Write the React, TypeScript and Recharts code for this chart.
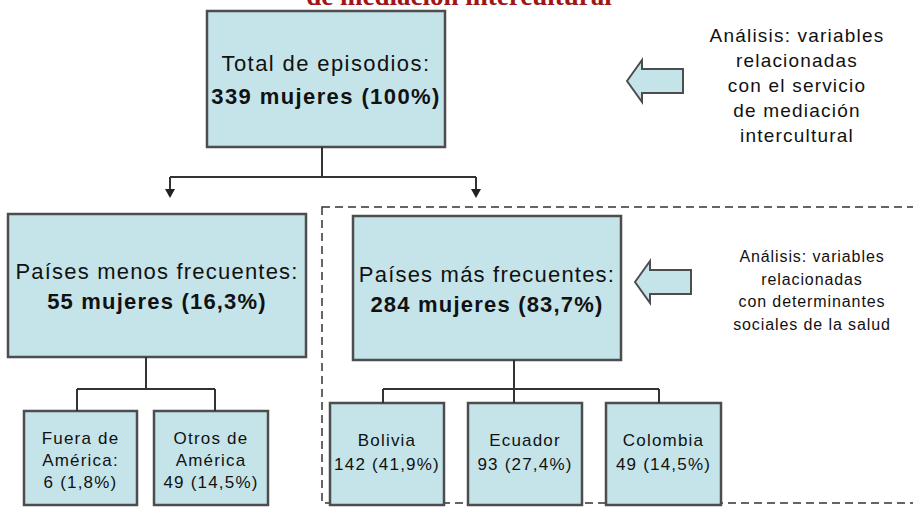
import { ComposedChart, XAxis, YAxis, ReferenceArea, ReferenceLine, ReferenceDot } from 'recharts';

const TITLE = 'de mediación intercultural';
const TOTAL_LABEL = 'Total de episodios:';
const TOTAL_COUNT = 339;
const TOTAL_PCT = '100%';
const GROUP_LABELS = ['Países menos frecuentes:', 'Países más frecuentes:'];
const GROUP_COUNTS = [55, 284];
const GROUP_PCTS = ['16,3%', '83,7%'];
const LESS_LABELS = [['Fuera de', 'América:'], ['Otros de', 'América']];
const LESS_COUNTS = [6, 49];
const LESS_PCTS = ['1,8%', '14,5%'];
const MORE_LABELS = ['Bolivia', 'Ecuador', 'Colombia'];
const MORE_COUNTS = [142, 93, 49];
const MORE_PCTS = ['41,9%', '27,4%', '14,5%'];
const NOTE_SERVICE = ['Análisis: variables', 'relacionadas', 'con el servicio', 'de mediación', 'intercultural'];
const NOTE_SOCIAL = ['Análisis: variables', 'relacionadas', 'con determinantes', 'sociales de la salud'];

// layout, in diagram units (x 0..913, y 0..508 top-down)
const ROOT_BOX = [207, 445, 11, 147];
const GROUP_BOXES = [[8, 306, 214, 357], [353, 621, 216, 360]];
const LESS_BOXES = [[24, 137, 411, 505], [154, 268, 411, 505]];
const MORE_BOXES = [[330, 444, 403, 505], [468, 582, 403, 505], [606, 721, 403, 505]];
const FRAME = [322, 940, 207, 503];
const CONNECTORS = [
  [322, 147, 322, 177], [170, 177, 476, 177], [170, 177, 170, 190], [476, 177, 476, 190],
  [146, 357, 146, 389], [77, 389, 215, 389], [77, 389, 77, 411], [215, 389, 215, 411],
  [514, 360, 514, 403], [383, 389, 659, 389], [383, 389, 383, 403], [659, 389, 659, 403],
];
const ARROW_TIPS = [[170, 198], [476, 198]];
const BLOCK_ARROWS = [[627, 81], [635, 282]];

const FILL = '#c5e4ea';
const EDGE = '#4d4d4d';
const FONT = '"Liberation Sans", Arial, sans-serif';

type Line = { text: string; bold?: boolean };

function BoxText(props: any) {
  const { viewBox, lines, size, gap, spacing = 1, shift = 0 } = props;
  const { x, y, width, height } = viewBox;
  const cx = x + width / 2;
  const top = y + height / 2 - ((lines.length - 1) * gap) / 2 + shift;
  return (
    <text textAnchor="middle" fontFamily={FONT} fontSize={size} fill="#111" style={{ letterSpacing: spacing }}>
      {lines.map((l: Line, i: number) => (
        <tspan key={i} x={cx} y={top + i * gap} dy="0.36em" fontWeight={l.bold ? 'bold' : 'normal'}>
          {l.text}
        </tspan>
      ))}
    </text>
  );
}

function Box({ box, lines, size, gap, spacing, shift }: any) {
  return (
    <ReferenceArea
      x1={box[0]} x2={box[1]} y1={box[2]} y2={box[3]}
      fill={FILL} fillOpacity={1} stroke={EDGE} strokeWidth={2.5}
      ifOverflow="visible"
      label={<BoxText lines={lines} size={size} gap={gap} spacing={spacing} shift={shift} />}
    />
  );
}

const blockArrow = (p: any) => {
  const { cx, cy } = p;
  const pts = [
    [cx, cy], [cx + 15, cy - 21], [cx + 15, cy - 12], [cx + 56, cy - 12],
    [cx + 56, cy + 12], [cx + 15, cy + 12], [cx + 15, cy + 21],
  ].map((q) => q.join(',')).join(' ');
  return <polygon points={pts} fill={FILL} stroke={EDGE} strokeWidth={2} strokeLinejoin="miter" />;
};

const arrowHead = (p: any) => {
  const { cx, cy } = p;
  return <polygon points={`${cx - 5},${cy - 9} ${cx + 5},${cy - 9} ${cx},${cy}`} fill="#222" />;
};

const textBlock = (lines: string[], size: number, gap: number, spacing: number, extra: any = {}) => (p: any) => {
  const { cx, cy } = p;
  const top = cy - ((lines.length - 1) * gap) / 2;
  return (
    <text textAnchor="middle" fontFamily={extra.family || FONT} fontSize={size} fontWeight={extra.weight || 'normal'}
      fill={extra.color || '#111'} style={{ letterSpacing: spacing }}>
      {lines.map((t, i) => (
        <tspan key={i} x={cx} y={top + i * gap} dy={extra.dy ?? '0.36em'}>{t}</tspan>
      ))}
    </text>
  );
};

export default function App() {
  return (
    <div style={{ position: 'absolute', left: 0, top: 0, width: 913, height: 508, background: '#fff', overflow: 'hidden' }}>
      <ComposedChart width={913} height={508} margin={{ top: 0, right: 0, bottom: 0, left: 0 }} data={[]}>
        <XAxis type="number" dataKey="x" domain={[0, 913]} hide allowDataOverflow />
        <YAxis type="number" dataKey="y" domain={[0, 508]} reversed hide allowDataOverflow />

        <ReferenceArea x1={FRAME[0]} x2={FRAME[1]} y1={FRAME[2]} y2={FRAME[3]} fill="none" stroke="#333"
          strokeWidth={1.5} strokeDasharray="8 5" ifOverflow="visible" />

        {CONNECTORS.map((c, i) => (
          <ReferenceLine key={`c${i}`} segment={[{ x: c[0], y: c[1] }, { x: c[2], y: c[3] }]}
            stroke="#333" strokeWidth={2} ifOverflow="visible" />
        ))}
        {ARROW_TIPS.map((a, i) => (
          <ReferenceDot key={`a${i}`} x={a[0]} y={a[1]} r={1} shape={arrowHead} ifOverflow="visible" />
        ))}

        <Box box={ROOT_BOX} size={22} gap={33} spacing={1.4} shift={1}
          lines={[{ text: TOTAL_LABEL }, { text: `${TOTAL_COUNT} mujeres (${TOTAL_PCT})`, bold: true }]} />
        {GROUP_BOXES.map((b, i) => (
          <Box key={`g${i}`} box={b} size={22} gap={30} spacing={1.2} shift={1}
            lines={[{ text: GROUP_LABELS[i] }, { text: `${GROUP_COUNTS[i]} mujeres (${GROUP_PCTS[i]})`, bold: true }]} />
        ))}
        {LESS_BOXES.map((b, i) => (
          <Box key={`l${i}`} box={b} size={17} gap={22} spacing={1.2} shift={2}
            lines={[...LESS_LABELS[i].map((t) => ({ text: t })), { text: `${LESS_COUNTS[i]} (${LESS_PCTS[i]})` }]} />
        ))}
        {MORE_BOXES.map((b, i) => (
          <Box key={`m${i}`} box={b} size={17} gap={24} spacing={1.2} shift={-2}
            lines={[{ text: MORE_LABELS[i] }, { text: `${MORE_COUNTS[i]} (${MORE_PCTS[i]})` }]} />
        ))}

        {BLOCK_ARROWS.map((a, i) => (
          <ReferenceDot key={`b${i}`} x={a[0]} y={a[1]} r={1} shape={blockArrow} ifOverflow="visible" />
        ))}

        <ReferenceDot x={797} y={85} r={1} ifOverflow="visible" shape={textBlock(NOTE_SERVICE, 19, 25, 1.2)} />
        <ReferenceDot x={812} y={290} r={1} ifOverflow="visible" shape={textBlock(NOTE_SOCIAL, 16, 22.5, 0.9)} />
        <ReferenceDot x={459} y={5} r={1} ifOverflow="visible"
          shape={textBlock([TITLE], 27, 0, 0, { family: '"Liberation Serif", serif', weight: 'bold', color: '#a01616', dy: 0 })} />
      </ComposedChart>
    </div>
  );
}
